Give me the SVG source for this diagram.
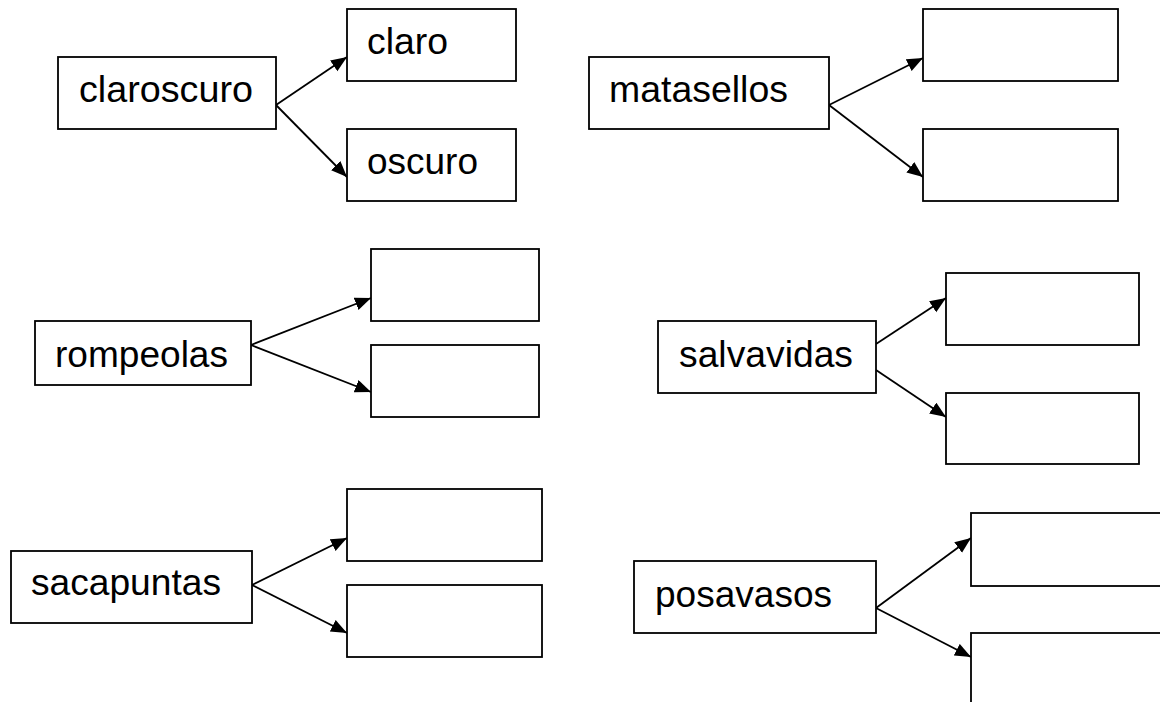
<svg xmlns="http://www.w3.org/2000/svg" width="1160" height="702" viewBox="0 0 1160 702">
<style>
.box{fill:#fff;stroke:#000;stroke-width:1.8}
.lbl{font-family:"Liberation Sans",Arial,sans-serif;font-size:36px;fill:#000}
.edge{stroke:#000;stroke-width:1.8;fill:none;marker-end:url(#ah)}
</style>
<defs>
<marker id="ah" markerUnits="userSpaceOnUse" markerWidth="18" markerHeight="14" refX="16" refY="6.5" orient="auto">
<path d="M0,0 L16,6.5 L0,13 Z" fill="#000"/>
</marker>
</defs>
<rect width="1160" height="702" fill="#fff"/>
<g id="connectors">
<line class="edge" x1="276" y1="105" x2="347" y2="57"/>
<line class="edge" x1="276" y1="105" x2="347" y2="177"/>
<line class="edge" x1="829" y1="105" x2="923" y2="58"/>
<line class="edge" x1="829" y1="105" x2="923" y2="177"/>
<line class="edge" x1="251" y1="345" x2="371" y2="298"/>
<line class="edge" x1="251" y1="345" x2="371" y2="392"/>
<line class="edge" x1="876" y1="344" x2="946" y2="298"/>
<line class="edge" x1="876" y1="370" x2="946" y2="417"/>
<line class="edge" x1="252" y1="585" x2="347" y2="538"/>
<line class="edge" x1="252" y1="585" x2="347" y2="633"/>
<line class="edge" x1="876" y1="608" x2="971" y2="538"/>
<line class="edge" x1="876" y1="608" x2="971" y2="657"/>
</g>
<g id="n-claroscuro"><rect class="box" x="58" y="57" width="218" height="72"/><text class="lbl" x="79" y="102" textLength="174" lengthAdjust="spacingAndGlyphs">claroscuro</text></g>
<g id="n-claro"><rect class="box" x="347" y="9" width="169" height="72"/><text class="lbl" x="367" y="54" textLength="81" lengthAdjust="spacingAndGlyphs">claro</text></g>
<g id="n-oscuro"><rect class="box" x="347" y="129" width="169" height="72"/><text class="lbl" x="367" y="174" textLength="111" lengthAdjust="spacingAndGlyphs">oscuro</text></g>
<g id="n-matasellos"><rect class="box" x="589" y="57" width="240" height="72"/><text class="lbl" x="609" y="102" textLength="179" lengthAdjust="spacingAndGlyphs">matasellos</text></g>
<g id="n-mat-1"><rect class="box" x="923" y="9" width="195" height="72"/></g>
<g id="n-mat-2"><rect class="box" x="923" y="129" width="195" height="72"/></g>
<g id="n-rompeolas"><rect class="box" x="35" y="321" width="216" height="64"/><text class="lbl" x="55" y="367" textLength="173" lengthAdjust="spacingAndGlyphs">rompeolas</text></g>
<g id="n-rom-1"><rect class="box" x="371" y="249" width="168" height="72"/></g>
<g id="n-rom-2"><rect class="box" x="371" y="345" width="168" height="72"/></g>
<g id="n-salvavidas"><rect class="box" x="658" y="321" width="218" height="72"/><text class="lbl" x="679" y="367" textLength="174" lengthAdjust="spacingAndGlyphs">salvavidas</text></g>
<g id="n-sal-1"><rect class="box" x="946" y="273" width="193" height="72"/></g>
<g id="n-sal-2"><rect class="box" x="946" y="393" width="193" height="71"/></g>
<g id="n-sacapuntas"><rect class="box" x="11" y="551" width="241" height="72"/><text class="lbl" x="31" y="595" textLength="190" lengthAdjust="spacingAndGlyphs">sacapuntas</text></g>
<g id="n-sac-1"><rect class="box" x="347" y="489" width="195" height="72"/></g>
<g id="n-sac-2"><rect class="box" x="347" y="585" width="195" height="72"/></g>
<g id="n-posavasos"><rect class="box" x="634" y="561" width="242" height="72"/><text class="lbl" x="655" y="607" textLength="177" lengthAdjust="spacingAndGlyphs">posavasos</text></g>
<g id="n-pos-1"><rect class="box" x="971" y="513" width="200" height="73"/></g>
<g id="n-pos-2"><rect class="box" x="971" y="633" width="200" height="80"/></g>
</svg>
